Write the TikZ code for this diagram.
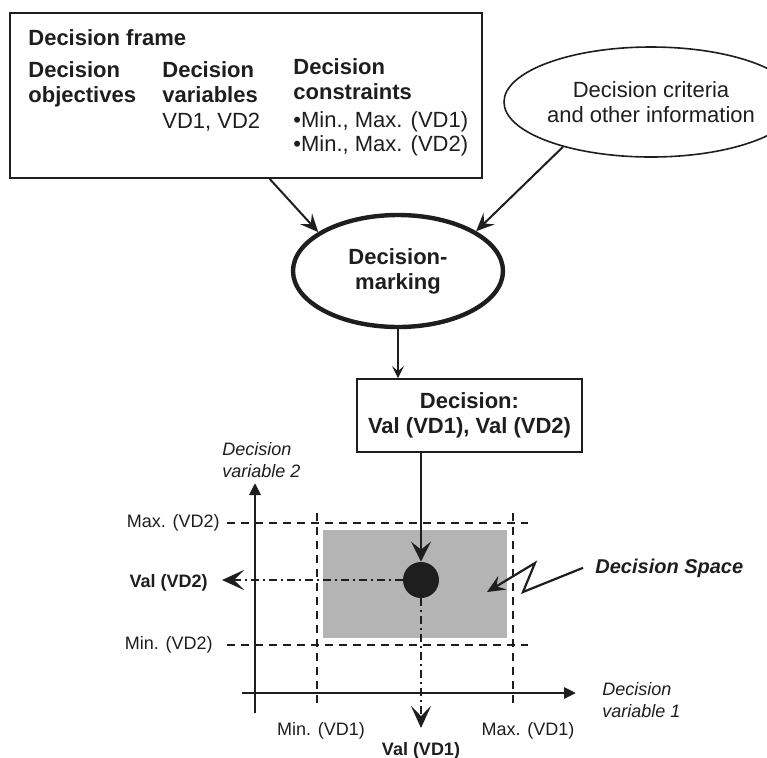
\documentclass[tikz,border=0pt]{standalone}
\usepackage{fontspec}
\setmainfont{Liberation Sans}
\usetikzlibrary{arrows.meta, positioning, shapes.geometric, calc}
\definecolor{CInk}{HTML}{1E1E1E}
\definecolor{CSpace}{HTML}{B4B4B4}
\tikzset{
    bigtxt/.style={inner sep=0pt, text=CInk, font=\fontsize{11}{12.5}\selectfont},
    smalltxt/.style={inner sep=0pt, text=CInk, font=\fontsize{9}{11}\selectfont},
    flow/.style={draw=CInk, line width=1pt, -{Stealth[length=9pt, width=8pt, inset=3.5pt]}},
    guide/.style={draw=CInk, line width=1pt, dash pattern=on 4pt off 3pt},
    valline/.style={draw=CInk, line width=1pt, dash pattern=on 4pt off 2pt on 1pt off 2pt,
        -{Stealth[length=11pt, width=10pt, inset=5pt]}},
    axis/.style={draw=CInk, line width=1.4pt, -{Triangle[length=6pt, width=5.5pt]}}
}

\begin{document}
\begin{tikzpicture}[x=0.5pt, y=-0.5pt]
    \useasboundingbox (0,0) rectangle (767,757);

    % --- 1. DECISION FRAME ---
    \node[draw=CInk, line width=0.9pt, minimum width=236pt, minimum height=82.5pt, inner sep=0pt]
        (frame) at (246,95.5) {};
    \node[bigtxt, anchor=base west] (ftitle) at (28,45) {\bfseries Decision frame};

    % objectives / variables / constraints
    \node[bigtxt, anchor=base west] (obj1) at (28,77) {\bfseries Decision};
    \node[bigtxt, anchor=base west] (obj2) at (28,102) {\bfseries objectives};
    \node[bigtxt, anchor=base west] (var1) at (162,77) {\bfseries Decision};
    \node[bigtxt, anchor=base west] (var2) at (162,102) {\bfseries variables};
    \node[bigtxt, anchor=base west] (var3) at (162,128) {VD1, VD2};
    \node[bigtxt, anchor=base west] (con1) at (293,74) {\bfseries Decision};
    \node[bigtxt, anchor=base west] (con2) at (293,99) {\bfseries constraints};
    \node[bigtxt, anchor=base west] (con3) at (293,127) {•Min., Max. (VD1)};
    \node[bigtxt, anchor=base west] (con4) at (293,151) {•Min., Max. (VD2)};

    % --- 2. CRITERIA AND DECISION-MAKING ---
    \node[ellipse, draw=CInk, line width=0.8pt, minimum width=111pt, minimum height=55pt,
        inner sep=0pt, bigtxt, align=center] (crit) at (651,102)
        {Decision criteria\\and other information};
    \node[ellipse, draw=CInk, line width=2.2pt, minimum width=105pt, minimum height=56pt,
        inner sep=0pt, bigtxt, align=center] (dm) at (398,271)
        {\bfseries Decision-\\\bfseries marking};
    \node[draw=CInk, line width=0.9pt, minimum width=112.5pt, minimum height=36.5pt,
        inner sep=0pt, bigtxt, align=center] (dec) at (469.5,415.5)
        {\bfseries Decision:\\\bfseries Val (VD1), Val (VD2)};

    \draw[flow] ($(frame.south west)!0.55!(frame.south east)$) -- (dm.154);
    \draw[flow] (crit.207) -- (dm.27);
    \draw[draw=CInk, line width=1pt, -{Stealth[length=6pt, width=6pt, inset=2.5pt]}]
        (dm.south) -- (dm.south |- dec.north);

    % --- 3. DECISION SPACE ---
    \fill[CSpace] (323,530) rectangle (507,638);

    % min / max guides
    \draw[guide] (227,523) -- (528,523);
    \draw[guide] (227,645) -- (528,645);
    \draw[guide] (317,513) -- (317,707);
    \draw[guide] (513,513) -- (513,707);

    % axes
    \draw[axis] (255,713) -- (255,483);
    \draw[axis] (242,693) -- (576,693);

    % chosen point
    \node[circle, fill=CInk, minimum size=18pt, inner sep=0pt] (dot) at (421,580) {};
    \draw[flow, -{Stealth[length=10pt, width=10pt, inset=4pt]}] (dec.south -| dot.north) -- (dot.north);
    \coordinate (v2tip) at (222,580);
    \coordinate (v1tip) at (421,728);
    \draw[valline] (dot.west) -- (v2tip);
    \draw[valline] (dot.south) -- (v1tip);

    % --- 4. LABELS ---
    \node[smalltxt, anchor=base west] (dv2a) at (222,455) {\itshape Decision};
    \node[smalltxt, anchor=base west] (dv2b) at (222,477) {\itshape variable 2};
    \node[smalltxt, anchor=base west] (dv1a) at (602,695) {\itshape Decision};
    \node[smalltxt, anchor=base west] (dv1b) at (602,717) {\itshape variable 1};

    \node[smalltxt, anchor=east] (maxv2) at (220,523) {Max. (VD2)};
    \node[smalltxt, anchor=east] (valv2) at (208,583) {\bfseries Val (VD2)};
    \node[smalltxt, anchor=east] (minv2) at (213,645) {Min. (VD2)};
    \node[smalltxt, anchor=base] (minv1) at (321,735) {Min. (VD1)};
    \node[smalltxt, anchor=base] (maxv1) at (528,735) {Max. (VD1)};
    \node[smalltxt, anchor=base] (valv1) at (421,755) {\bfseries Val (VD1)};

    \node[inner sep=0pt, text=CInk, font=\fontsize{10}{12}\selectfont\bfseries\itshape,
        anchor=base west] (space) at (595,573) {Decision Space};
    \draw[flow, line width=1.1pt] ([xshift=-6pt]space.west) -- (523,592) -- (535,563) -- (487,592);

\end{tikzpicture}
\end{document}
